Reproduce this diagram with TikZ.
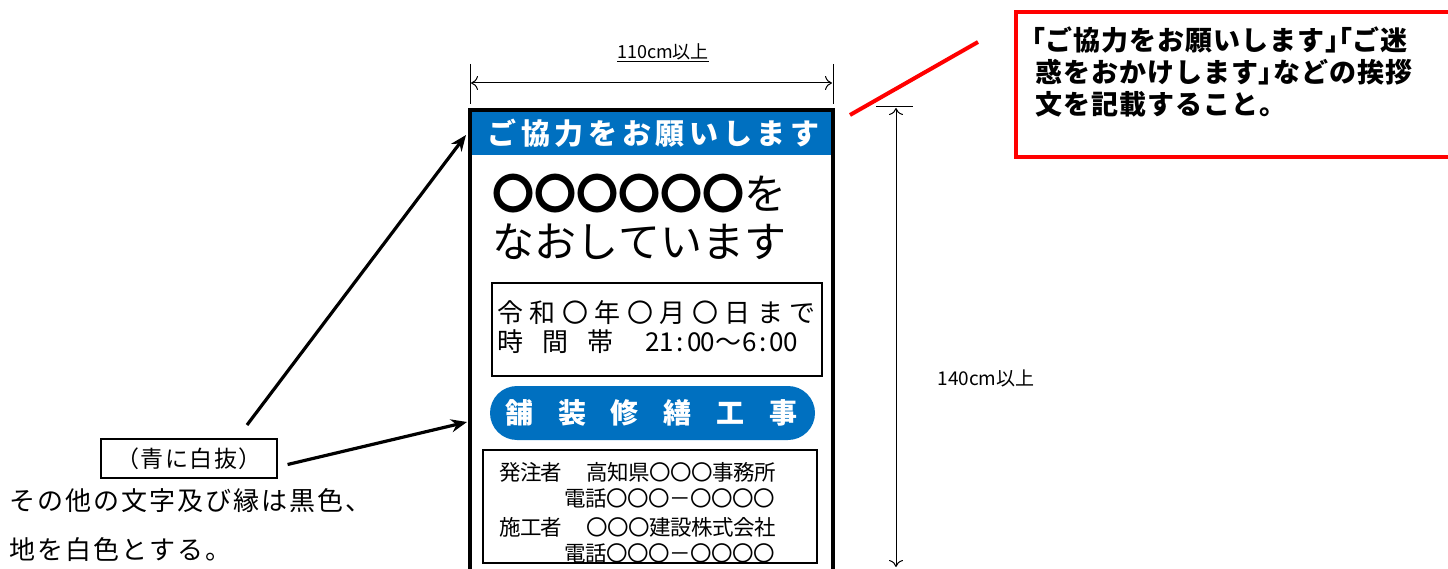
\documentclass[tikz,border=0pt]{standalone}
\usepackage{fontspec}
\setmainfont{Noto Sans CJK JP}
\usetikzlibrary{arrows.meta}
\definecolor{signblue}{HTML}{0070C0}
\definecolor{callred}{HTML}{FF0000}
\newcommand\spc[2]{\def\cw{#1}\spx#2\relax}
\def\spx#1{\ifx\relax#1\else\makebox[\cw][c]{#1}\expandafter\spx\fi}
\newcommand\lbr{\makebox[13.5pt][r]{「}}
\newcommand\rbr{\makebox[13.5pt][l]{」}}
\newcommand\cc{{\bfseries 〇}}
\tikzset{
  txt/.style={inner sep=0pt, outer sep=0pt},
  dimline/.style={line width=1pt, black},
  dimarrow/.style={line width=1pt, {To[length=7pt,width=14pt]}-{To[length=7pt,width=14pt]}},
  thinbox/.style={draw=black, line width=1.5pt},
  callarrow/.style={line width=3.2pt, -{Stealth[length=16pt,width=13pt]}},
}
\begin{document}
\begin{tikzpicture}[x=1pt,y=-1pt]
\useasboundingbox (0,0) rectangle (1448,569);
\clip (0,0) rectangle (1448,569);
% sign
\fill[signblue] (472,112) rectangle (831,155);
\node[txt, text=white, font=\bfseries\fontsize{29}{29}\selectfont] (hdr) at (653.5,133) {\spc{33.7pt}{ご協力をお願いします}};
\draw[line width=4pt] (470,110) rectangle (833,620);
\coordinate (signtl) at (466,135);
\coordinate (signml) at (467,422);
% big text
\node[txt, anchor=west, font=\fontsize{42}{42}\selectfont] (l1) at (492,194) {\spc{42pt}{\cc\cc\cc\cc\cc\cc を}};
\node[txt, anchor=west, font=\fontsize{42}{42}\selectfont] (l2) at (492,242) {\spc{42pt}{なおしています}};
% date box
\draw[thinbox] (492,283) rectangle (822,376);
\node[txt, anchor=west, font=\fontsize{26}{26}\selectfont] (d1) at (494,313) {\spc{32.5pt}{令和〇年〇月〇日まで}};
\node[txt, font=\fontsize{26}{26}\selectfont] (d2a) at (510,342) {時};
\node[txt, font=\fontsize{26}{26}\selectfont] (d2b) at (555,342) {間};
\node[txt, font=\fontsize{26}{26}\selectfont] (d2c) at (600,342) {帯};
\node[txt, anchor=west, font=\fontsize{26}{26}\selectfont] (d2d) at (646,342) {\spc{13.8pt}{21:00}\makebox[27.7pt]{～}\spc{13.8pt}{6:00}};
% pill
\fill[signblue, rounded corners=27pt] (490,386) rectangle (815,440);
\node[txt, anchor=west, text=white, font=\bfseries\fontsize{28}{28}\selectfont] (pill) at (493,413) {\spc{52.8pt}{舗装修繕工事}};
% bottom box
\draw[thinbox] (483,450) rectangle (817,563);
\node[txt, anchor=west, font=\fontsize{21.5}{22}\selectfont] (b1a) at (500,472) {\spc{20.5pt}{発注者}};
\node[txt, anchor=west, font=\fontsize{21.5}{22}\selectfont] (b1b) at (587,472) {\spc{21pt}{高知県〇〇〇事務所}};
\node[txt, anchor=west, font=\fontsize{21.5}{22}\selectfont] (b2) at (565,498) {\spc{21pt}{電話〇〇〇－〇〇〇〇}};
\node[txt, anchor=west, font=\fontsize{21.5}{22}\selectfont] (b3a) at (500,527) {\spc{20.5pt}{施工者}};
\node[txt, anchor=west, font=\fontsize{21.5}{22}\selectfont] (b3b) at (587,527) {\spc{21pt}{〇〇〇建設株式会社}};
\node[txt, anchor=west, font=\fontsize{21.5}{22}\selectfont] (b4) at (565,553) {\spc{21pt}{電話〇〇〇－〇〇〇〇}};
% width dimension
\draw[dimline] (470,64) -- (470,104);
\draw[dimline] (833,64) -- (833,104);
\coordinate (wl) at (471,83);
\coordinate (wr) at (832,83);
\draw[dimarrow] (wl) -- (wr);
\node[txt, font=\fontsize{18}{18}\selectfont] (wlab) at (663,53) {\underline{110cm以上}};
% height dimension
\draw[dimline] (876,107) -- (913,107);
\coordinate (ht) at (896,108);
\coordinate (hb) at (896,567);
\draw[dimarrow] (ht) -- (hb);
\node[txt, font=\fontsize{19}{19}\selectfont] (hlab) at (986,378) {140cm以上};
% red callout
\coordinate (r1) at (850,115);
\coordinate (r2) at (978,42);
\draw[callred, line width=4pt] (r1) -- (r2);
\draw[callred, line width=4pt] (1016,12) rectangle (1470,157);
\node[txt, anchor=west, font=\bfseries\fontsize{27}{27}\selectfont] (c1) at (1032,40) {\lbr\spc{28pt}{ご協力をお願いします}\rbr\lbr\spc{28pt}{ご迷}};
\node[txt, anchor=west, font=\bfseries\fontsize{27}{27}\selectfont] (c2) at (1035,72) {\spc{28pt}{惑をおかけします}\rbr\spc{28pt}{などの挨拶}};
\node[txt, anchor=west, font=\bfseries\fontsize{27}{27}\selectfont] (c3) at (1035,104) {\spc{28pt}{文を記載すること。}};
% left notes
\node[draw=black, line width=1.2pt, minimum width=176pt, minimum height=39pt, inner sep=0pt, font=\fontsize{23}{23}\selectfont] (wb) at (189,458.5) {\spc{24.5pt}{（青に白抜）}};
\coordinate (a1s) at (247,425);
\draw[callarrow] (a1s) -- (signtl);
\draw[callarrow] ([xshift=10pt,yshift=-6pt]wb.east) -- (signml);
\node[txt, anchor=west, font=\fontsize{26}{26}\selectfont] (n1) at (9,501) {\spc{28pt}{その他の文字及び縁は黒色、}};
\node[txt, anchor=west, font=\fontsize{26}{26}\selectfont] (n2) at (9,550) {\spc{28pt}{地を白色とする。}};
\end{tikzpicture}
\end{document}
